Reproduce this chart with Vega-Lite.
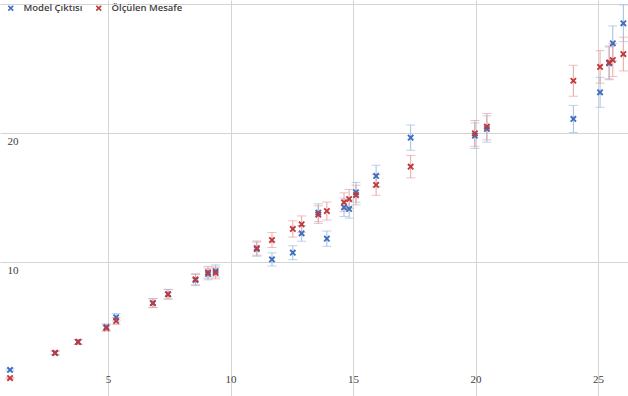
{
  "$schema": "https://vega.github.io/schema/vega-lite/v6.json",
  "autosize": {"type": "none"},
  "padding": 0,
  "width": 628,
  "height": 396,
  "background": "white",
  "config": {"view": {"stroke": null}},
  "data": {"values": [
    {"s": "Model Çıktısı", "x": 1.0, "y": 1.63, "lo": 1.55, "hi": 1.71},
    {"s": "Model Çıktısı", "x": 2.84, "y": 2.95, "lo": 2.80, "hi": 3.10},
    {"s": "Model Çıktısı", "x": 3.78, "y": 3.8, "lo": 3.61, "hi": 3.99},
    {"s": "Model Çıktısı", "x": 4.93, "y": 4.95, "lo": 4.70, "hi": 5.20},
    {"s": "Model Çıktısı", "x": 5.33, "y": 5.71, "lo": 5.42, "hi": 6.00},
    {"s": "Model Çıktısı", "x": 6.83, "y": 6.82, "lo": 6.48, "hi": 7.16},
    {"s": "Model Çıktısı", "x": 7.45, "y": 7.5, "lo": 7.13, "hi": 7.88},
    {"s": "Model Çıktısı", "x": 8.57, "y": 8.6, "lo": 8.17, "hi": 9.03},
    {"s": "Model Çıktısı", "x": 9.08, "y": 9.07, "lo": 8.62, "hi": 9.52},
    {"s": "Model Çıktısı", "x": 9.39, "y": 9.3, "lo": 8.84, "hi": 9.77},
    {"s": "Model Çıktısı", "x": 11.07, "y": 11.0, "lo": 10.45, "hi": 11.55},
    {"s": "Model Çıktısı", "x": 11.69, "y": 10.2, "lo": 9.69, "hi": 10.71},
    {"s": "Model Çıktısı", "x": 12.54, "y": 10.72, "lo": 10.18, "hi": 11.26},
    {"s": "Model Çıktısı", "x": 12.9, "y": 12.22, "lo": 11.61, "hi": 12.83},
    {"s": "Model Çıktısı", "x": 13.58, "y": 13.82, "lo": 13.13, "hi": 14.51},
    {"s": "Model Çıktısı", "x": 13.93, "y": 11.81, "lo": 11.22, "hi": 12.40},
    {"s": "Model Çıktısı", "x": 14.63, "y": 14.24, "lo": 13.53, "hi": 14.95},
    {"s": "Model Çıktısı", "x": 14.84, "y": 14.11, "lo": 13.40, "hi": 14.82},
    {"s": "Model Çıktısı", "x": 15.12, "y": 15.4, "lo": 14.63, "hi": 16.17},
    {"s": "Model Çıktısı", "x": 15.94, "y": 16.67, "lo": 15.84, "hi": 17.50},
    {"s": "Model Çıktısı", "x": 17.35, "y": 19.64, "lo": 18.66, "hi": 20.62},
    {"s": "Model Çıktısı", "x": 19.97, "y": 19.79, "lo": 18.80, "hi": 20.78},
    {"s": "Model Çıktısı", "x": 20.46, "y": 20.31, "lo": 19.29, "hi": 21.33},
    {"s": "Model Çıktısı", "x": 23.99, "y": 21.09, "lo": 20.04, "hi": 22.14},
    {"s": "Model Çıktısı", "x": 25.08, "y": 23.15, "lo": 21.99, "hi": 24.31},
    {"s": "Model Çıktısı", "x": 25.45, "y": 25.4, "lo": 24.13, "hi": 26.67},
    {"s": "Model Çıktısı", "x": 25.6, "y": 26.95, "lo": 25.60, "hi": 28.30},
    {"s": "Model Çıktısı", "x": 26.03, "y": 28.5, "lo": 27.08, "hi": 29.93},
    {"s": "Ölçülen Mesafe", "x": 1.0, "y": 1.0, "lo": 0.95, "hi": 1.05},
    {"s": "Ölçülen Mesafe", "x": 2.84, "y": 2.95, "lo": 2.80, "hi": 3.10},
    {"s": "Ölçülen Mesafe", "x": 3.78, "y": 3.8, "lo": 3.61, "hi": 3.99},
    {"s": "Ölçülen Mesafe", "x": 4.93, "y": 4.88, "lo": 4.64, "hi": 5.12},
    {"s": "Ölçülen Mesafe", "x": 5.33, "y": 5.43, "lo": 5.16, "hi": 5.70},
    {"s": "Ölçülen Mesafe", "x": 6.83, "y": 6.8, "lo": 6.46, "hi": 7.14},
    {"s": "Ölçülen Mesafe", "x": 7.45, "y": 7.49, "lo": 7.12, "hi": 7.86},
    {"s": "Ölçülen Mesafe", "x": 8.57, "y": 8.66, "lo": 8.23, "hi": 9.09},
    {"s": "Ölçülen Mesafe", "x": 9.08, "y": 9.2, "lo": 8.74, "hi": 9.66},
    {"s": "Ölçülen Mesafe", "x": 9.39, "y": 9.15, "lo": 8.69, "hi": 9.61},
    {"s": "Ölçülen Mesafe", "x": 11.07, "y": 11.08, "lo": 10.53, "hi": 11.63},
    {"s": "Ölçülen Mesafe", "x": 11.69, "y": 11.7, "lo": 11.12, "hi": 12.29},
    {"s": "Ölçülen Mesafe", "x": 12.54, "y": 12.56, "lo": 11.93, "hi": 13.19},
    {"s": "Ölçülen Mesafe", "x": 12.9, "y": 12.92, "lo": 12.27, "hi": 13.57},
    {"s": "Ölçülen Mesafe", "x": 13.58, "y": 13.67, "lo": 12.99, "hi": 14.35},
    {"s": "Ölçülen Mesafe", "x": 13.93, "y": 13.95, "lo": 13.25, "hi": 14.65},
    {"s": "Ölçülen Mesafe", "x": 14.63, "y": 14.63, "lo": 13.90, "hi": 15.36},
    {"s": "Ölçülen Mesafe", "x": 14.84, "y": 14.88, "lo": 14.14, "hi": 15.62},
    {"s": "Ölçülen Mesafe", "x": 15.12, "y": 15.19, "lo": 14.43, "hi": 15.95},
    {"s": "Ölçülen Mesafe", "x": 15.94, "y": 15.97, "lo": 15.17, "hi": 16.77},
    {"s": "Ölçülen Mesafe", "x": 17.35, "y": 17.39, "lo": 16.52, "hi": 18.26},
    {"s": "Ölçülen Mesafe", "x": 19.97, "y": 19.97, "lo": 18.97, "hi": 20.97},
    {"s": "Ölçülen Mesafe", "x": 20.46, "y": 20.49, "lo": 19.47, "hi": 21.51},
    {"s": "Ölçülen Mesafe", "x": 23.99, "y": 24.05, "lo": 22.85, "hi": 25.25},
    {"s": "Ölçülen Mesafe", "x": 25.08, "y": 25.12, "lo": 23.86, "hi": 26.38},
    {"s": "Ölçülen Mesafe", "x": 25.45, "y": 25.47, "lo": 24.20, "hi": 26.74},
    {"s": "Ölçülen Mesafe", "x": 25.6, "y": 25.66, "lo": 24.38, "hi": 26.94},
    {"s": "Ölçülen Mesafe", "x": 26.03, "y": 26.12, "lo": 24.81, "hi": 27.43}
  ]},
  "resolve": {"scale": {"color": "independent"}},
  "layer": [
    {
      "mark": {"type": "errorbar", "ticks": {"size": 9}, "thickness": 1},
      "encoding": {
        "x": {"field": "x", "type": "quantitative", "scale": {"domain": [0.59, 26.22], "nice": false, "zero": false},
          "axis": {"values": [5, 10, 15, 20, 25], "grid": true, "gridColor": "#d4d4d4", "gridWidth": 1, "domain": false, "ticks": false, "tickSize": 0, "labelPadding": -23, "labelFont": "Liberation Serif", "labelFontSize": 11, "labelColor": "#404040", "title": null}},
        "y": {"field": "lo", "type": "quantitative", "scale": {"domain": [-0.39, 30.31], "nice": false, "zero": false},
          "axis": {"values": [10, 20, 30], "grid": true, "gridColor": "#d4d4d4", "gridWidth": 1, "domain": false, "ticks": false, "tickSize": 0, "labelAlign": "left", "labelBaseline": "top", "labelPadding": -7, "labelOffset": 3, "labelFont": "Liberation Serif", "labelFontSize": 11, "labelColor": "#404040", "labelExpr": "datum.value == 30 ? '' : datum.label", "title": null}},
        "y2": {"field": "hi"},
        "color": {"field": "s", "type": "nominal", "scale": {"domain": ["Model Çıktısı", "Ölçülen Mesafe"], "range": ["#9fbfe3", "#e9a3a3"]}, "legend": null}
      }
    },
    {
      "mark": {"type": "point", "filled": true, "opacity": 1, "size": 45, "shape": "M-1,-0.6L-0.6,-1L0,-0.4L0.6,-1L1,-0.6L0.4,0L1,0.6L0.6,1L0,0.4L-0.6,1L-1,0.6L-0.4,0Z"},
      "encoding": {
        "x": {"field": "x", "type": "quantitative"},
        "y": {"field": "y", "type": "quantitative"},
        "color": {"field": "s", "type": "nominal", "scale": {"domain": ["Model Çıktısı", "Ölçülen Mesafe"], "range": ["#3f6fbf", "#c0393b"]},
          "legend": {"title": null, "orient": "none", "legendX": 4, "legendY": 3, "direction": "horizontal", "symbolType": "M-1,-0.6L-0.6,-1L0,-0.4L0.6,-1L1,-0.6L0.4,0L1,0.6L0.6,1L0,0.4L-0.6,1L-1,0.6L-0.4,0Z", "symbolSize": 36, "labelFont": "Open Sans", "labelFontSize": 9.5, "labelFontWeight": 600, "labelColor": "#404040", "labelOffset": 8, "columnPadding": 9, "symbolOffset": 2}}
      }
    }
  ]
}
